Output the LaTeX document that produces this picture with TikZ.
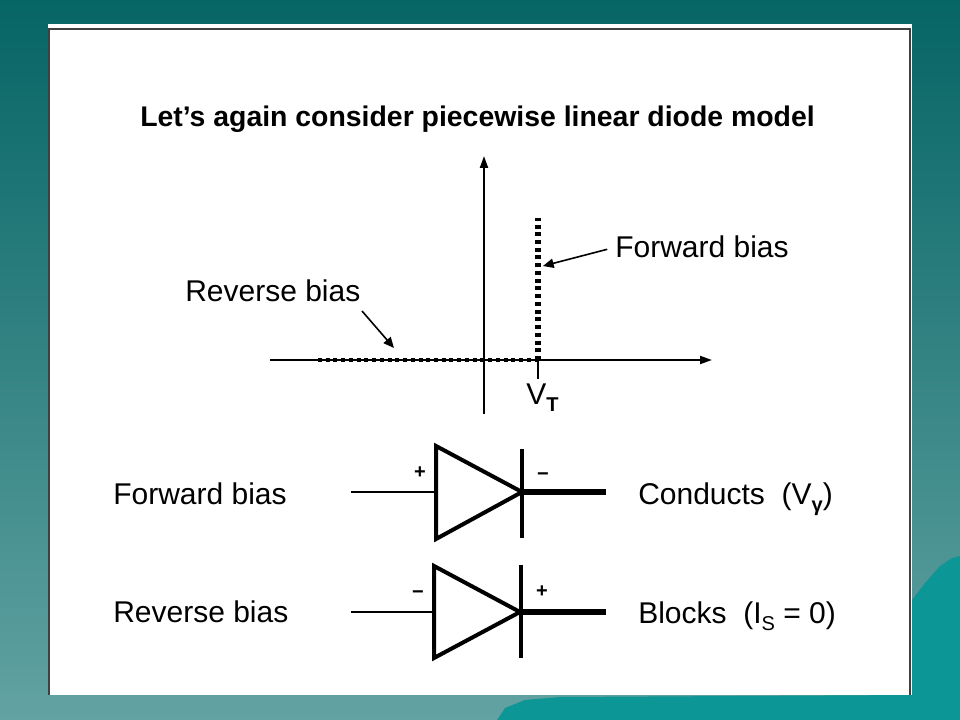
\documentclass[tikz,border=0pt]{standalone}
\usepackage{fontspec}
\setmainfont{Liberation Sans}
\usepackage{tikz}
\usetikzlibrary{arrows.meta}
\definecolor{slidetop}{HTML}{066565}
\definecolor{slidebot}{HTML}{62A2A2}
\definecolor{berg}{HTML}{0C9696}
\newcommand{\lowsub}[1]{\raisebox{-0.45ex}{\fontsize{15}{17}\selectfont #1}}
\tikzset{lbl/.style={anchor=base west, inner sep=0pt, font=\fontsize{22.5}{27}\selectfont}}
\tikzset{axisline/.style={draw, line width=1.5pt, -{Triangle[length=9pt,width=6pt]}}}
\tikzset{pointer/.style={draw, line width=1.2pt, -{Triangle[length=8pt,width=7pt]}}}
\tikzset{dotline/.style={draw, line width=3.4pt, dash pattern=on 3pt off 2.8pt}}
\tikzset{lead/.style={draw, line width=2.2pt}}
\tikzset{leadthick/.style={draw, line width=4.5pt}}
\tikzset{diodebody/.style={draw, line width=3pt, line join=miter}}
\tikzset{sign/.style={inner sep=0pt, font=\fontsize{15}{17}\selectfont\bfseries}}

\begin{document}
\begin{tikzpicture}[x=0.75pt, y=-0.75pt]
		\useasboundingbox (0,0) rectangle (960,720);
		% slide background
		\shade[top color=slidetop, bottom color=slidebot] (0,0) rectangle (960,720);
		\fill[berg] (497,720) -- (505,708) -- (525,700) -- (560,697) -- (912,695)
			-- (912,600) -- (925,583) -- (940,566) -- (952,558) -- (960,556) -- (960,720) -- cycle;
		\fill[white] (48,24) rectangle (912,695);
		\draw[black!75, line width=1.5pt] (49,695) -- (49,29) -- (910,29) -- (910,695);
		% title
		\node[lbl, font=\fontsize{21.3}{26}\selectfont\bfseries] (title) at (140,127)
			{Let’s again consider piecewise linear diode model};

		% axes
		\coordinate (xl) at (270,360);
		\coordinate (xr) at (712,360);
		\coordinate (yb) at (484,414);
		\coordinate (yt) at (484,156);
		\draw[axisline] (xl) -- (xr);
		\draw[axisline] (yb) -- (yt);
		% characteristic
		\coordinate (rb) at (318,360);
		\coordinate (VT) at (538,360);
		\coordinate (fb) at (538,218);
		\coordinate (tick) at (538,379);
		\draw[dotline] (rb) -- (VT);
		\draw[dotline, line width=3.8pt] (VT) -- (fb);
		\draw[line width=1.5pt] (VT) -- (tick);
		\node[lbl] (vtlbl) at (526,404) {V\lowsub{\textbf{T}}};

		\node[lbl] (fwd) at (615,258) {Forward bias};
		\node[lbl] (rev) at (185,301) {Reverse bias};
		\coordinate (fbtip) at (543,266);
		\coordinate (rbtail) at (362,311);
		\coordinate (rbtip) at (394,348);
		\draw[pointer, shorten <=6pt] (fwd.west) -- (fbtip);
		\draw[pointer] (rbtail) -- (rbtip);

		% forward biased diode
		\coordinate (a1) at (351,492);
		\coordinate (p1) at (436,492);
		\coordinate (k1) at (522,492);
		\coordinate (e1) at (606,492);
		\draw[lead] (a1) -- (p1);
		\draw[diodebody] (436,446) -- (k1) -- (436,539) -- cycle;
		\draw[line width=3pt] (522,449) -- (522,538);
		\draw[leadthick] (k1) -- (e1);
		\node[sign] (plus1) at (420,473) {+};
		\node[sign] (minus1) at (543,477) {−};
		\node[lbl] (fwd2) at (113,504) {Forward bias};
		\node[lbl] (cond) at (638,504) {Conducts\ \ (V\lowsub{\textbf{γ}})};

		% reverse biased diode
		\coordinate (a2) at (351,612);
		\coordinate (p2) at (434,612);
		\coordinate (k2) at (520,612);
		\coordinate (e2) at (606,612);
		\draw[lead] (a2) -- (p2);
		\draw[diodebody] (434,566) -- (k2) -- (434,658) -- cycle;
		\draw[line width=3.5pt] (521,565) -- (521,658);
		\draw[leadthick] (k2) -- (e2);
		\node[sign] (minus2) at (418,595) {−};
		\node[sign] (plus2) at (542,592) {+};
		\node[lbl] (rev2) at (113,622) {Reverse bias};
		\node[lbl] (block) at (638,623) {Blocks\ \ (I\lowsub{S} = 0)};
	\end{tikzpicture}
\end{document}
